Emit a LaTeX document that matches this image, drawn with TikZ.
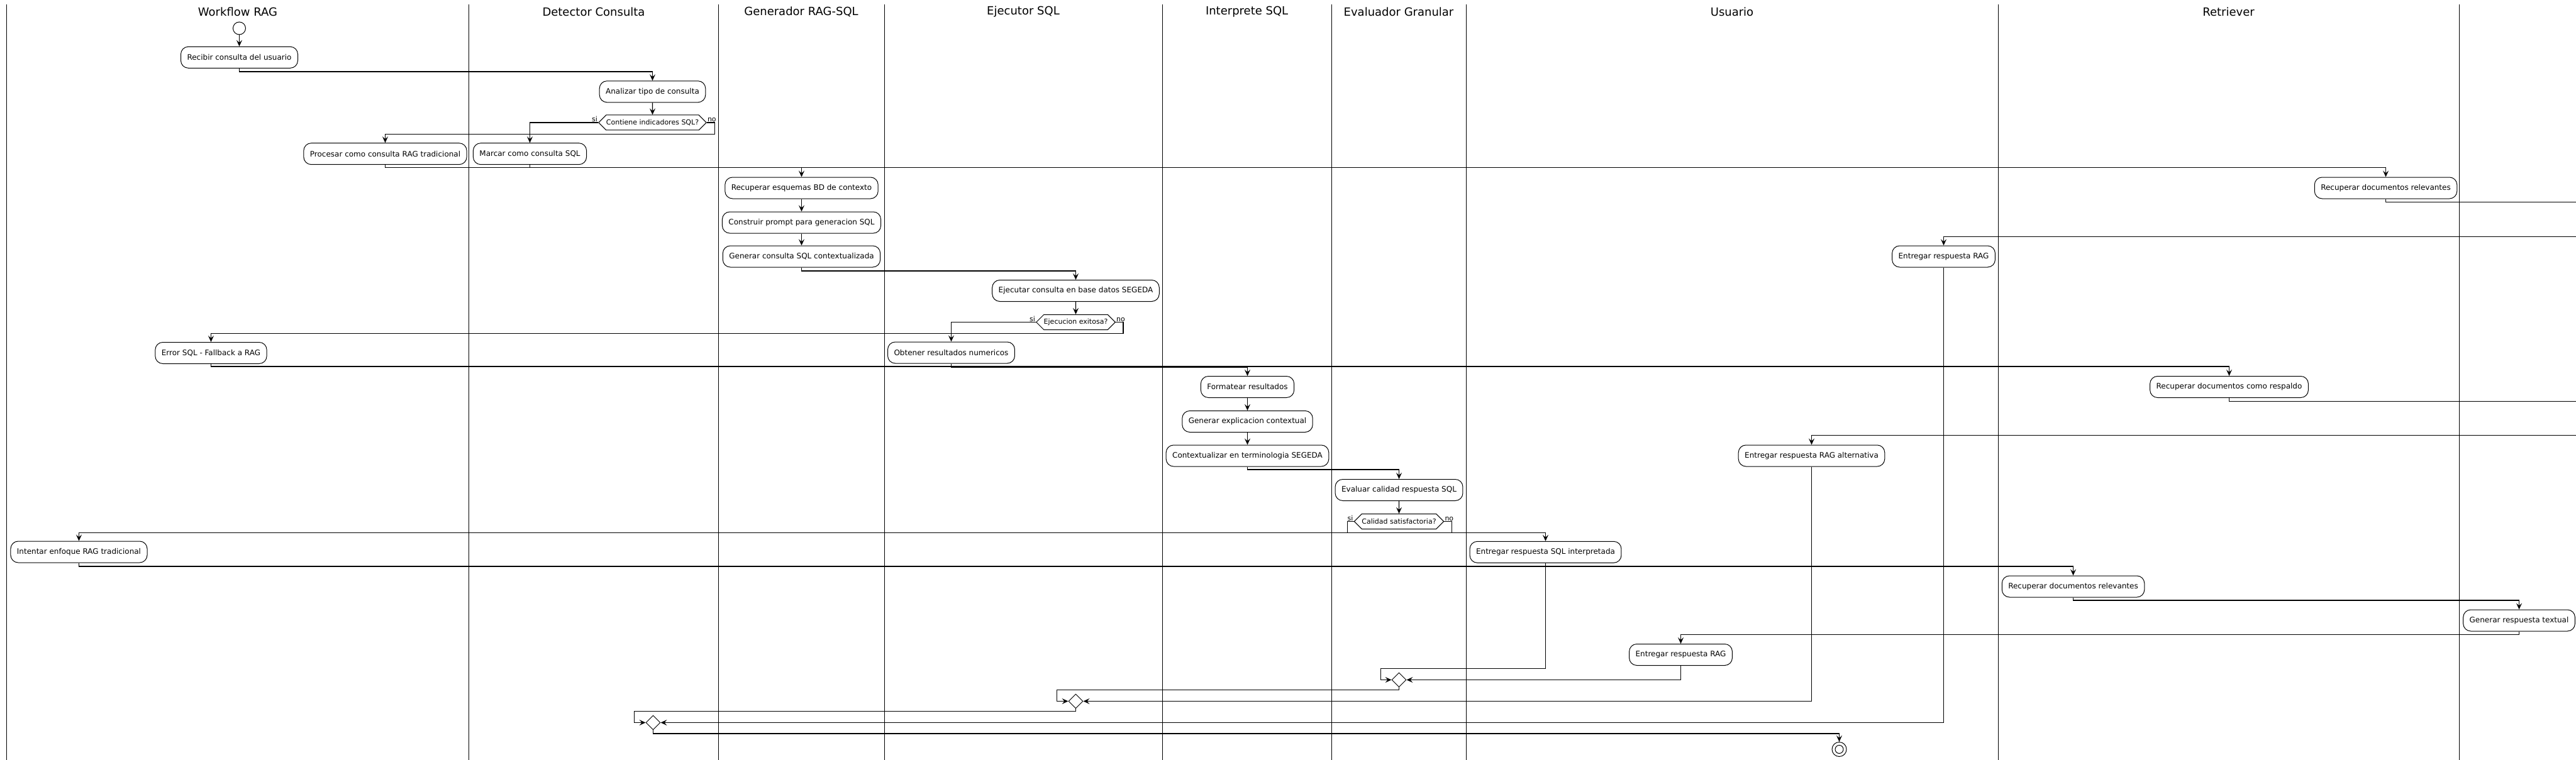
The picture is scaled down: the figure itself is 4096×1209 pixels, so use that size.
\documentclass[tikz,border=0pt]{standalone}
\usepackage{fontspec}
\setmainfont{DejaVu Sans}
\usetikzlibrary{shapes.geometric,shapes.symbols,arrows.meta,calc}
\tikzset{
 act/.style={draw, line width=1pt, rounded corners=12pt, minimum height=34pt, inner xsep=10pt, inner ysep=2pt, font=\fontsize{12}{14}\selectfont, fill=white},
 hexa/.style={draw, line width=1pt, shape=signal, signal to=east and west, signal pointer angle=90, minimum height=24pt, inner xsep=0pt, inner ysep=2pt, font=\fontsize{11}{13}\selectfont, fill=white},
 merge/.style={draw, line width=0.9pt, diamond, minimum width=23pt, minimum height=23pt, inner sep=0pt, fill=white},
 conn/.style={line width=1.1pt},
 arr/.style={conn, -{Stealth[length=10pt,width=9pt,inset=4pt]}},
 lane/.style={line width=0.7pt},
 lanetitle/.style={font=\fontsize{18}{22}\selectfont, inner sep=0pt},
 lbl/.style={font=\fontsize{11}{13}\selectfont, inner sep=1pt},
 startnode/.style={circle, draw, line width=1pt, minimum size=20pt, inner sep=0pt, fill=white},
}
\begin{document}
\begin{tikzpicture}[x=1pt,y=-1pt]
\useasboundingbox (0,0) rectangle (4096,1209);
\fill[white] (0,0) rectangle (4096,1209);
% lanes
\foreach \lx in {10.5,745.5,1142.5,1406.5,1848.5,2117.5,2331.5,3177.5,3910.5}
  \draw[lane] (\lx,7.3) -- (\lx,1209);
\node[lanetitle] (t1) at (378,19) {Workflow RAG};
\node[lanetitle] (t2) at (944,19) {Detector Consulta};
\node[lanetitle] (t3) at (1274,19) {Generador RAG-SQL};
\node[lanetitle] (t4) at (1627,19) {Ejecutor SQL};
\node[lanetitle] (t5) at (1982.6,19) {Interprete SQL};
\node[lanetitle] (t6) at (2224,19) {Evaluador Granular};
\node[lanetitle] (t7) at (2754,19) {Usuario};
\node[lanetitle] (t8) at (3543.5,19) {Retriever};
% nodes
\node[startnode] (start) at (380.5,45) {};
\node[act] (recibir) at (380.5,91.3) {Recibir consulta del usuario};
\node[act] (analizar) at (1037.5,145.8) {Analizar tipo de consulta};
\node[hexa] (hexA) at (1037.5,195) {Contiene indicadores SQL?};
\node[lbl, anchor=south east] (siA) at (hexA.west) {si};
\node[lbl, anchor=south west] (noA) at (hexA.east) {no};
\node[act] (marcar) at (842.5,244.7) {Marcar como consulta SQL};
\node[act] (procesar) at (612.5,244.7) {Procesar como consulta RAG tradicional};
\node[act] (esquemas) at (1274.5,299) {Recuperar esquemas BD de contexto};
\node[act] (prompt) at (1274.5,354) {Construir prompt para generacion SQL};
\node[act] (generar) at (1274.5,408) {Generar consulta SQL contextualizada};
\node[act] (ejecutar) at (1710.5,462.5) {Ejecutar consulta en base datos SEGEDA};
\node[hexa] (hexB) at (1710.5,512.5) {Ejecucion exitosa?};
\node[lbl, anchor=south east] (siB) at (hexB.west) {si};
\node[lbl, anchor=south west] (noB) at (hexB.east) {no};
\node[act] (obtener) at (1512.5,561) {Obtener resultados numericos};
\node[act] (error) at (335.5,561.5) {Error SQL - Fallback a RAG};
\node[act] (docs1) at (3793.5,299) {Recuperar documentos relevantes};
\node[act] (rag1) at (3090.5,408) {Entregar respuesta RAG};
\node[act] (respaldo) at (3544.5,615.5) {Recuperar documentos como respaldo};
\node[act] (formatear) at (1983.5,615.5) {Formatear resultados};
\node[act] (explic) at (1983.5,670.5) {Generar explicacion contextual};
\node[act] (context) at (1983.5,725) {Contextualizar en terminologia SEGEDA};
\node[act] (ragalt) at (2880.5,725) {Entregar respuesta RAG alternativa};
\node[act] (evaluar) at (2224.5,779.5) {Evaluar calidad respuesta SQL};
\node[hexa] (hexC) at (2224.5,829.5) {Calidad satisfactoria?};
\node[lbl, anchor=south east] (siC) at (hexC.west) {si};
\node[lbl, anchor=south west] (noC) at (hexC.east) {no};
\node[act] (intentar) at (125.5,878) {Intentar enfoque RAG tradicional};
\node[act] (sqlint) at (2457.5,878.3) {Entregar respuesta SQL interpretada};
\node[act] (docs2) at (3296.5,933) {Recuperar documentos relevantes};
\node[act] (textual) at (4005.5,987) {Generar respuesta textual};
\node[act] (rag2) at (2672.5,1041.5) {Entregar respuesta RAG};
\node[merge] (mA) at (2224.5,1081.5) {};
\node[merge] (mB) at (1710.5,1115.5) {};
\node[merge] (mC) at (1038.5,1149.5) {};
\node[circle, draw, line width=1pt, minimum size=23pt, inner sep=0pt, fill=white] (end) at (2924.5,1192) {};
\node[circle, draw, line width=1pt, minimum size=13pt, inner sep=0pt] (endin) at (end) {};
\coordinate (out1) at (4096,321.5);
\coordinate (in1) at (4096,376.5);
\coordinate (out2) at (4096,638.5);
\coordinate (in2) at (4096,692.5);
% connectors
\draw[arr] (start) -- (recibir);
\draw[arr] (recibir.south) -- ++(0,5.2) -| (analizar.north);
\draw[arr] (analizar) -- (hexA);
\draw[arr] (hexA.west) -| (marcar.north);
\draw[arr] (hexA.east) -- ++(12.6,0) -- ++(0,18.5) -| (procesar.north);
\draw[arr] (procesar.south) -- ++(0,4.3) -| (docs1.north);
\draw[arr] (marcar.south) -- ++(0,4.3) -| (esquemas.north);
\draw[arr] (esquemas) -- (prompt);
\draw[arr] (prompt) -- (generar);
\draw[arr] (generar.south) -- ++(0,5.5) -| (ejecutar.north);
\draw[arr] (ejecutar) -- (hexB);
\draw[arr] (hexB.west) -| (obtener.north);
\draw[arr] (hexB.east) -- ++(12,0) -- ++(0,18) -| (error.north);
\draw[arr] (obtener.south) -- ++(0,5.5) -| (formatear.north);
\draw[arr] (error.south) -- ++(0,4) -| (respaldo.north);
\draw[conn] (docs1.south) |- (out1);
\draw[arr] (in1) -| (rag1.north);
\draw[arr] (rag1.south) |- (mC.east);
\draw[conn] (respaldo.south) |- (out2);
\draw[arr] (in2) -| (ragalt.north);
\draw[arr] (ragalt.south) |- (mB.east);
\draw[arr] (formatear) -- (explic);
\draw[arr] (explic) -- (context);
\draw[arr] (context.south) -- ++(0,4.5) -| (evaluar.north);
\draw[arr] (evaluar) -- (hexC);
\draw[arr] (hexC.west) -- ++(-10.3,0) -- ++(0,18) -| (sqlint.north);
\draw[arr] (hexC.east) -- ++(12.6,0) -- ++(0,18) -| (intentar.north);
\draw[arr] (intentar.south) -- ++(0,5.5) -| (docs2.north);
\draw[arr] (docs2.south) -- ++(0,4.5) -| (textual.north);
\draw[arr] (textual.south) -- ++(0,5) -| (rag2.north);
\draw[arr] (sqlint.south) |- ($(mA.west)+(-16.8,-18)$) |- (mA.west);
\draw[arr] (rag2.south) |- (mA.east);
\draw[arr] (mA.south) |- ($(mB.west)+(-18.5,-18)$) |- (mB.west);
\draw[arr] (mB.south) |- ($(mC.west)+(-18.5,-18)$) |- (mC.west);
\draw[arr] (mC.south) -- ++(0,5.5) -| (end.north);
\end{tikzpicture}
\end{document}
